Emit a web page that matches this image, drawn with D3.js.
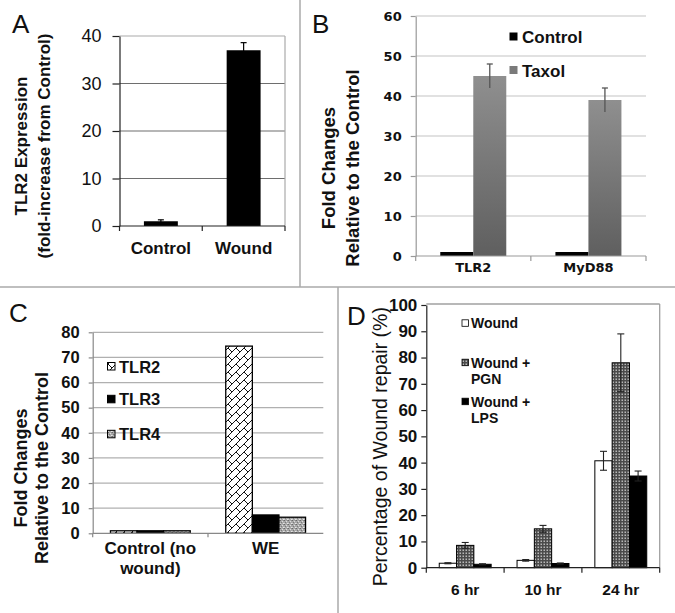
<!DOCTYPE html>
<html><head><meta charset="utf-8">
<script src="https://cdn.jsdelivr.net/npm/d3@7"></script>
<style>body{margin:0;background:#fff} svg{display:block;font-family:"Liberation Sans",Arial,sans-serif}</style>
</head><body><svg id="c" width="675" height="613"></svg>
<script>
// ---- Panel A data
const catsA = ["Control", "Wound"];
const valsA = [1, 37];
const errA = [0.3, 1.6];
const ticksA = [0, 10, 20, 30, 40];
// ---- Panel B data
const catsB = ["TLR2", "MyD88"];
const seriesB = ["Control", "Taxol"];
const controlB = [1, 1];
const taxolB = [45, 39];
const taxolErrB = [3, 3];
const ticksB = [0, 10, 20, 30, 40, 50, 60];
// ---- Panel C data
const catsC = [["Control (no", "wound)"], ["WE"]];
const seriesC = ["TLR2", "TLR3", "TLR4"];
const tlr2C = [1, 74.5];
const tlr3C = [1, 7.3];
const tlr4C = [1, 6.4];
const ticksC = [0, 10, 20, 30, 40, 50, 60, 70, 80];
// ---- Panel D data
const catsD = ["6 hr", "10 hr", "24 hr"];
const seriesD = [["Wound"], ["Wound +", "PGN"], ["Wound +", "LPS"]];
const woundD = [1.7, 2.8, 40.7];
const pgnD = [8.5, 14.8, 78];
const lpsD = [1.3, 1.6, 34.9];
const woundErrD = [0.2, 0.3, 3.6];
const pgnErrD = [1.1, 1.3, 11];
const lpsErrD = [0.2, 0.2, 1.9];
const ticksD = [0, 10, 20, 30, 40, 50, 60, 70, 80, 90, 100];

const svg = d3.select("#c");
const defs = svg.append("defs");
// gradient for Taxol
const gr = defs.append("linearGradient").attr("id", "gTaxol").attr("x1", 0).attr("y1", 0).attr("x2", 0).attr("y2", 1);
gr.append("stop").attr("offset", 0).attr("stop-color", "#8f8f8f");
gr.append("stop").attr("offset", 1).attr("stop-color", "#5f5f5f");
// diagonal brick
const pb = defs.append("pattern").attr("id", "pBrick").attr("width", 8).attr("height", 8).attr("patternUnits", "userSpaceOnUse");
pb.append("rect").attr("width", 8).attr("height", 8).attr("fill", "#fff");
pb.append("path").attr("d", "M-1,9 L9,-1 M-1,1 L1,-1 M7,9 L9,7 M4,4 L8,8 M-4,4 L0,8").attr("stroke", "#111").attr("stroke-width", 1);
// speckle
const ps = defs.append("pattern").attr("id", "pSpeck").attr("width", 4).attr("height", 4).attr("patternUnits", "userSpaceOnUse");
ps.append("rect").attr("width", 4).attr("height", 4).attr("fill", "#a8a8a8");
[[0,0,"#6a6a6a"],[2,1,"#dcdcdc"],[1,2,"#7a7a7a"],[3,3,"#e6e6e6"],[3,0,"#8a8a8a"],[0,3,"#cfcfcf"]].forEach(([x,y,c]) =>
  ps.append("rect").attr("x", x).attr("y", y).attr("width", 1).attr("height", 1).attr("fill", c));
// PGN dots
const pd = defs.append("pattern").attr("id", "pDots").attr("width", 3).attr("height", 3).attr("patternUnits", "userSpaceOnUse");
pd.append("rect").attr("width", 3).attr("height", 3).attr("fill", "#4a4a4a");
pd.append("rect").attr("x", 0.5).attr("y", 0.5).attr("width", 1.5).attr("height", 1.5).attr("fill", "#b8b8b8");

// separators
svg.append("line").attr("x1", 300).attr("x2", 300).attr("y1", 0).attr("y2", 287).attr("stroke", "#aaa").attr("stroke-width", 1.5);
svg.append("line").attr("x1", 0).attr("x2", 675).attr("y1", 287).attr("y2", 287).attr("stroke", "#aaa").attr("stroke-width", 1.5);
svg.append("line").attr("x1", 338).attr("x2", 338).attr("y1", 287).attr("y2", 613).attr("stroke", "#aaa").attr("stroke-width", 1.5);

function panelLabel(t, x, y) {
  svg.append("text").attr("x", x).attr("y", y).attr("font-size", 26).attr("fill", "#111").text(t);
}
function vTitle(lines, xs, cy, size, weight) {
  lines.forEach((t, i) => {
    svg.append("text").attr("transform", `translate(${xs[i]},${cy}) rotate(-90)`)
      .attr("text-anchor", "middle").attr("font-size", size).attr("font-weight", weight).attr("fill", "#111").text(t);
  });
}
function errBar(g, x, y1, y2, cap, color, w, lowerCap) {
  g.append("line").attr("x1", x).attr("x2", x).attr("y1", y1).attr("y2", y2).attr("stroke", color).attr("stroke-width", w);
  g.append("line").attr("x1", x - cap/2).attr("x2", x + cap/2).attr("y1", y1).attr("y2", y1).attr("stroke", color).attr("stroke-width", w);
  if (lowerCap) g.append("line").attr("x1", x - cap/2).attr("x2", x + cap/2).attr("y1", y2).attr("y2", y2).attr("stroke", color).attr("stroke-width", w);
}
function styleAxis(g, color, fontSize, weight, family) {
  g.select(".domain").attr("stroke", color).attr("stroke-width", 1.2);
  g.selectAll(".tick line").attr("stroke", color).attr("stroke-width", 1.2);
  g.selectAll(".tick text").attr("fill", "#111").attr("font-size", fontSize).attr("font-weight", weight)
    .attr("font-family", family);
}

// ================= Panel A
(function () {
  const x = d3.scaleBand().domain(catsA).range([119.5, 285]);
  const y = d3.scaleLinear().domain([0, 40]).range([226, 36]);
  const g = svg.append("g");
  ticksA.filter(t => t > 0 && t < 40).forEach(t =>
    g.append("line").attr("x1", 119.5).attr("x2", 285).attr("y1", y(t)).attr("y2", y(t)).attr("stroke", "#6e6e6e").attr("stroke-width", 1.2));
  g.append("line").attr("x1", 119.5).attr("x2", 285).attr("y1", y(40)).attr("y2", y(40)).attr("stroke", "#aaa").attr("stroke-width", 1.2);
  g.append("line").attr("x1", 285).attr("x2", 285).attr("y1", y(40)).attr("y2", y(0)).attr("stroke", "#aaa").attr("stroke-width", 1.2);
  const bw = x.bandwidth() * 0.41;
  catsA.forEach((c, i) => {
    const cx = x(c) + x.bandwidth() / 2;
    g.append("rect").attr("x", cx - bw/2).attr("y", y(valsA[i])).attr("width", bw).attr("height", y(0) - y(valsA[i])).attr("fill", "#000");
    errBar(g, cx, y(valsA[i] + errA[i]), y(valsA[i] - errA[i]), 6, "#000", 1.2, false);
  });
  const ay = g.append("g").attr("transform", "translate(119.5,0)")
    .call(d3.axisLeft(y).tickValues(ticksA).tickSize(7).tickPadding(11).tickSizeOuter(0));
  styleAxis(ay, "#222", 18, "normal", "Liberation Sans, Arial, sans-serif");
  // bottom axis
  g.append("line").attr("x1", 119.5).attr("x2", 285).attr("y1", y(0)).attr("y2", y(0)).attr("stroke", "#222").attr("stroke-width", 1.2);
  const bounds = [x.range()[0]].concat(catsA.map(c => x(c) + x.bandwidth()));
  bounds.forEach(b => g.append("line").attr("x1", b).attr("x2", b).attr("y1", y(0)).attr("y2", y(0) + 5).attr("stroke", "#222").attr("stroke-width", 1.2));
  catsA.forEach(c => g.append("text").attr("x", x(c) + x.bandwidth()/2).attr("y", 254).attr("text-anchor", "middle")
    .attr("font-size", 17).attr("font-weight", "bold").attr("fill", "#111").text(c));
  vTitle(["TLR2 Expression", "(fold-increase from Control)"], [27, 49.5], 146, 17, "bold");
  panelLabel("A", 12, 33);
})();

// ================= Panel B
(function () {
  const x = d3.scaleBand().domain(catsB).range([415.7, 646]);
  const y = d3.scaleLinear().domain([0, 60]).range([256, 16]);
  const g = svg.append("g");
  ticksB.filter(t => t > 0).forEach(t =>
    g.append("line").attr("x1", 415.7).attr("x2", 646).attr("y1", y(t)).attr("y2", y(t)).attr("stroke", "#c4c4c4").attr("stroke-width", 1.2));
  const bw = 33;
  catsB.forEach((c, i) => {
    const cx = x(c) + x.bandwidth() / 2;
    g.append("rect").attr("x", cx - bw).attr("y", y(controlB[i])).attr("width", bw).attr("height", y(0) - y(controlB[i])).attr("fill", "#000");
    g.append("rect").attr("x", cx).attr("y", y(taxolB[i])).attr("width", bw).attr("height", y(0) - y(taxolB[i])).attr("fill", "url(#gTaxol)");
    errBar(g, cx + bw/2, y(taxolB[i] + taxolErrB[i]), y(taxolB[i] - taxolErrB[i]), 6, "#555", 1.3, false);
  });
  const ay = g.append("g").attr("transform", "translate(415.7,0)")
    .call(d3.axisLeft(y).tickValues(ticksB).tickSize(5).tickPadding(9).tickSizeOuter(0));
  styleAxis(ay, "#999", 13, "bold", "DejaVu Sans, sans-serif");
  g.append("line").attr("x1", 415.7).attr("x2", 646).attr("y1", y(0)).attr("y2", y(0)).attr("stroke", "#999").attr("stroke-width", 1.2);
  const bounds = [x.range()[0]].concat(catsB.map(c => x(c) + x.bandwidth()));
  bounds.forEach(b => g.append("line").attr("x1", b).attr("x2", b).attr("y1", y(0)).attr("y2", y(0) + 5).attr("stroke", "#999").attr("stroke-width", 1.2));
  catsB.forEach(c => g.append("text").attr("x", x(c) + x.bandwidth()/2).attr("y", 272).attr("text-anchor", "middle")
    .attr("font-size", 13).attr("font-weight", "bold").attr("font-family", "DejaVu Sans, sans-serif").attr("fill", "#111").text(c));
  // legend
  const fills = ["#000", "#7a7a7a"];
  const ly = [36.5, 70];
  seriesB.forEach((s, i) => {
    g.append("rect").attr("x", 509.5).attr("y", ly[i] - 4).attr("width", 8).attr("height", 8).attr("fill", fills[i]);
    g.append("text").attr("x", 522).attr("y", ly[i] + 6.5).attr("font-size", 17).attr("font-weight", "bold").attr("fill", "#111").text(s);
  });
  vTitle(["Fold Changes", "Relative to the Control"], [335, 358.5], 168, 18.5, "bold");
  panelLabel("B", 312, 33);
})();

// ================= Panel C
(function () {
  const labels = catsC.map(d => d.join(" "));
  const x = d3.scaleBand().domain(labels).range([92.7, 323.3]);
  const y = d3.scaleLinear().domain([0, 80]).range([533.3, 332.3]);
  const g = svg.append("g");
  ticksC.filter(t => t > 0).forEach(t =>
    g.append("line").attr("x1", 92.7).attr("x2", 323.3).attr("y1", y(t)).attr("y2", y(t)).attr("stroke", "#b0b0b0").attr("stroke-width", 1.2));
  const fills = ["url(#pBrick)", "#000", "url(#pSpeck)"];
  const ly = [366.5, 399.3, 434.3];
  seriesC.forEach((s, i) => {
    g.append("rect").attr("x", 107.5).attr("y", ly[i] - 4).attr("width", 7.5).attr("height", 7.5).attr("fill", fills[i]).attr("stroke", "#000").attr("stroke-width", 1);
    g.append("text").attr("x", 119).attr("y", ly[i] + 6).attr("font-size", 16.5).attr("font-weight", "bold").attr("fill", "#111").text(s);
  });
  const bw = 26.6;
  const data = [tlr2C, tlr3C, tlr4C];
  labels.forEach((c, i) => {
    const cx = x(c) + x.bandwidth() / 2;
    data.forEach((arr, k) => {
      g.append("rect").attr("x", cx - 1.5*bw + k*bw).attr("y", y(arr[i])).attr("width", bw).attr("height", y(0) - y(arr[i]))
        .attr("fill", fills[k]).attr("stroke", "#000").attr("stroke-width", 1.3);
    });
  });
  const ay = g.append("g").attr("transform", "translate(92.7,0)")
    .call(d3.axisLeft(y).tickValues(ticksC).tickSize(4).tickPadding(9).tickSizeOuter(0));
  styleAxis(ay, "#888", 16.5, "bold", "Liberation Sans, Arial, sans-serif");
  g.append("line").attr("x1", 92.7).attr("x2", 323.3).attr("y1", y(0)).attr("y2", y(0)).attr("stroke", "#888").attr("stroke-width", 1.2);
  const bounds = [x.range()[0]].concat(labels.map(c => x(c) + x.bandwidth()));
  bounds.slice(0, 2).forEach(b => g.append("line").attr("x1", b).attr("x2", b).attr("y1", y(0)).attr("y2", y(0) + 4).attr("stroke", "#888").attr("stroke-width", 1.2));
  catsC.forEach((lines, i) => {
    lines.forEach((t, j) => g.append("text").attr("x", x(labels[i]) + x.bandwidth()/2).attr("y", 554 + j*20).attr("text-anchor", "middle")
      .attr("font-size", 17).attr("font-weight", "bold").attr("fill", "#111").text(t));
  });
  vTitle(["Fold Changes", "Relative to the Control"], [27, 48], 468, 18, "bold");
  panelLabel("C", 9, 322);
})();

// ================= Panel D
(function () {
  const x = d3.scaleBand().domain(catsD).range([426.3, 659.7]);
  const y = d3.scaleLinear().domain([0, 100]).range([567.7, 305]);
  const g = svg.append("g");
  g.append("line").attr("x1", 426.3).attr("x2", 659.7).attr("y1", 304).attr("y2", 304).attr("stroke", "#a0a0a0").attr("stroke-width", 1.3);
  g.append("line").attr("x1", 659.7).attr("x2", 659.7).attr("y1", 304).attr("y2", y(0)).attr("stroke", "#a0a0a0").attr("stroke-width", 1.3);
  const bw = 17.3;
  const fills = ["#fff", "url(#pDots)", "#000"];
  const data = [woundD, pgnD, lpsD];
  const errs = [woundErrD, pgnErrD, lpsErrD];
  catsD.forEach((c, i) => {
    const cx = x(c) + x.bandwidth() / 2;
    data.forEach((arr, k) => {
      const bx = cx - 1.5*bw + k*bw;
      g.append("rect").attr("x", bx).attr("y", y(arr[i])).attr("width", bw).attr("height", y(0) - y(arr[i]))
        .attr("fill", fills[k]).attr("stroke", "#000").attr("stroke-width", 1);
    });
    data.forEach((arr, k) => {
      const bx = cx - 1.5*bw + k*bw;
      errBar(g, bx + bw/2, y(arr[i] + errs[k][i]), y(arr[i] - errs[k][i]), 7, "#222", 1.1, true);
    });
  });
  const ay = g.append("g").attr("transform", "translate(426.3,0)")
    .call(d3.axisLeft(y).tickValues(ticksD).tickSize(5).tickPadding(4).tickSizeOuter(0));
  styleAxis(ay, "#222", 17, "bold", "Liberation Sans, Arial, sans-serif");
  g.append("line").attr("x1", 426.3).attr("x2", 659.7).attr("y1", y(0)).attr("y2", y(0)).attr("stroke", "#222").attr("stroke-width", 1.2);
  const bounds = [x.range()[0]].concat(catsD.map(c => x(c) + x.bandwidth()));
  bounds.forEach(b => g.append("line").attr("x1", b).attr("x2", b).attr("y1", y(0)).attr("y2", y(0) + 5).attr("stroke", "#222").attr("stroke-width", 1.2));
  catsD.forEach(c => g.append("text").attr("x", x(c) + x.bandwidth()/2).attr("y", 595).attr("text-anchor", "middle")
    .attr("font-size", 15.5).attr("font-weight", "bold").attr("fill", "#111").text(c));
  // legend
  const ly = [323.3, 362.7, 401.7];
  seriesD.forEach((lines, i) => {
    g.append("rect").attr("x", 462).attr("y", ly[i] - 3.5).attr("width", 6.5).attr("height", 6.5).attr("fill", fills[i]).attr("stroke", "#000").attr("stroke-width", 0.8);
    lines.forEach((t, j) => g.append("text").attr("x", 471).attr("y", ly[i] + 5 + j*16.5).attr("font-size", 14).attr("font-weight", "bold").attr("fill", "#111").text(t));
  });
  vTitle(["Percentage of Wound repair (%)"], [386.5], 446.7, 19.5, "normal");
  panelLabel("D", 347, 325);
})();
</script>
</body></html>
